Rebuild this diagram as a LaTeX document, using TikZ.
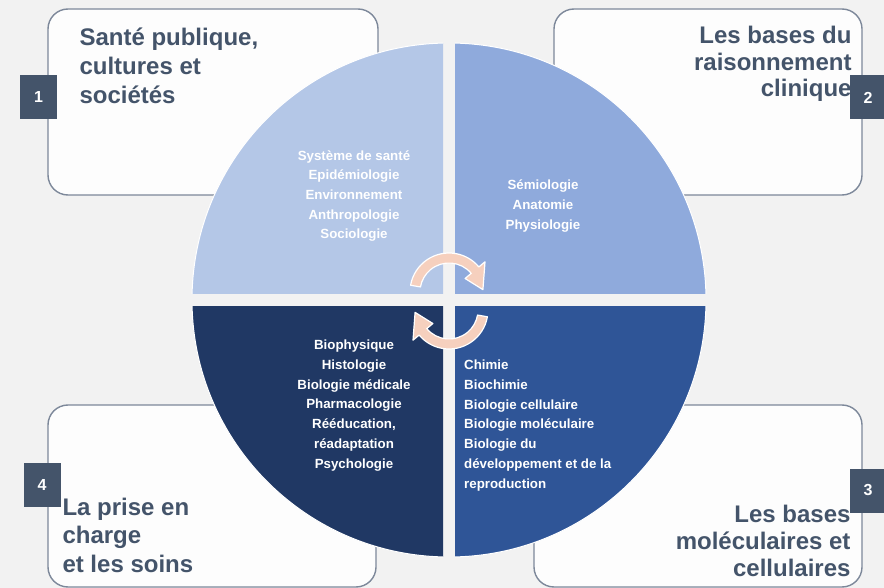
\documentclass[tikz,border=0pt]{standalone}
\usepackage{fontspec}
\setmainfont{Liberation Sans}
\usepackage{tikz}
\usetikzlibrary{positioning,calc}
\definecolor{paper}{HTML}{F2F2F2}
\definecolor{panelfill}{HTML}{FDFDFD}
\definecolor{panelline}{HTML}{7D889A}
\definecolor{slate}{HTML}{44546A}
\definecolor{quadA}{HTML}{B4C7E7}
\definecolor{quadB}{HTML}{8FAADC}
\definecolor{quadC}{HTML}{203864}
\definecolor{quadD}{HTML}{2F5597}
\definecolor{peach}{HTML}{F6D0BE}
\newcommand\turnpath{(190:39) arc[start angle=190, end angle=320, radius=39]
  -- (320:47) -- (356:34) -- (320:21) -- (320:29)
  arc[start angle=320, end angle=190, radius=29] -- cycle}

\begin{document}
\begin{tikzpicture}[x=1pt, y=-1pt,
    panel/.style={draw=panelline, fill=panelfill, line width=1.4pt, rounded corners=20pt, inner sep=0pt},
    numbox/.style={fill=slate, text=white, font=\bfseries\fontsize{16}{16}\selectfont, minimum width=37pt, minimum height=44pt, inner sep=0pt},
    heading/.style={text=slate, font=\bfseries\fontsize{24}{#1}\selectfont, inner sep=0pt},
    heading/.default=28,
    topic/.style={text=white, font=\bfseries\fontsize{13.3}{19.7}\selectfont, inner sep=0pt},
    turn/.style={fill=peach, draw=white, line width=1.2pt, line join=round}]
      \fill[paper] (0,0) rectangle (884,588);
      \useasboundingbox (0,0) rectangle (884,588);
      \clip (0,0) rectangle (884,588);

      % corner panels
      \node[panel, minimum width=330pt, minimum height=186pt] (box1) at (213,102) {};
      \node[panel, minimum width=308pt, minimum height=186pt] (box2) at (708,102) {};
      \node[panel, minimum width=328pt, minimum height=182pt] (box3) at (698,496) {};
      \node[panel, minimum width=328pt, minimum height=182pt] (box4) at (212,496) {};

      \node[heading=29, align=left, below right=19pt and 32pt of box1.north west] (head1) {Santé publique,\\cultures et\\sociétés};
      \node[heading=26.5, align=right, below left=18pt and 11pt of box2.north east] (head2) {Les bases du\\raisonnement\\clinique};
      \node[heading=27, align=right, above left=11pt and 12pt of box3.south east] (head3) {Les bases\\moléculaires et\\cellulaires};
      \node[heading=28.5, align=left, above right=15pt and 15pt of box4.south west] (head4) {La prise en\\charge\\et les soins};

      % the wheel
      \coordinate (hub) at (449,300);
      \foreach \col/\sx/\sy in {quadA/-1/-1, quadB/1/-1, quadC/-1/1, quadD/1/1} {
        \begin{scope}
          \clip ($(hub)+(\sx*6,\sy*6)$) rectangle ($(hub)+(\sx*270,\sy*270)$);
          \fill[\col, draw=white, line width=1pt] (hub) circle[radius=257];
        \end{scope}
      }
      \fill[turn, shift={(449,292)}] \turnpath;
      \fill[turn, rotate around={180:(449,301)}, shift={(449,292)}] \turnpath;

      \node[topic, align=center] (topicA) at (354,196) {Système de santé\\Epidémiologie\\Environnement\\Anthropologie\\Sociologie};
      \node[topic, align=center] (topicB) at (543,206) {Sémiologie\\Anatomie\\Physiologie};
      \node[topic, align=center] (topicC) at (354,405.5) {Biophysique\\Histologie\\Biologie médicale\\Pharmacologie\\Rééducation,\\réadaptation\\Psychologie};
      \node[topic, align=left, anchor=west] (topicD) at (464,425.5) {Chimie\\Biochimie\\Biologie cellulaire\\Biologie moléculaire\\Biologie du\\développement et de la\\reproduction};

      % numbers
      \node[numbox] (num1) at (38.5,97) {1};
      \node[numbox] (num2) at (868,97.5) {2};
      \node[numbox] (num3) at (868,490.5) {3};
      \node[numbox] (num4) at (42,484.5) {4};
\end{tikzpicture}
\end{document}
